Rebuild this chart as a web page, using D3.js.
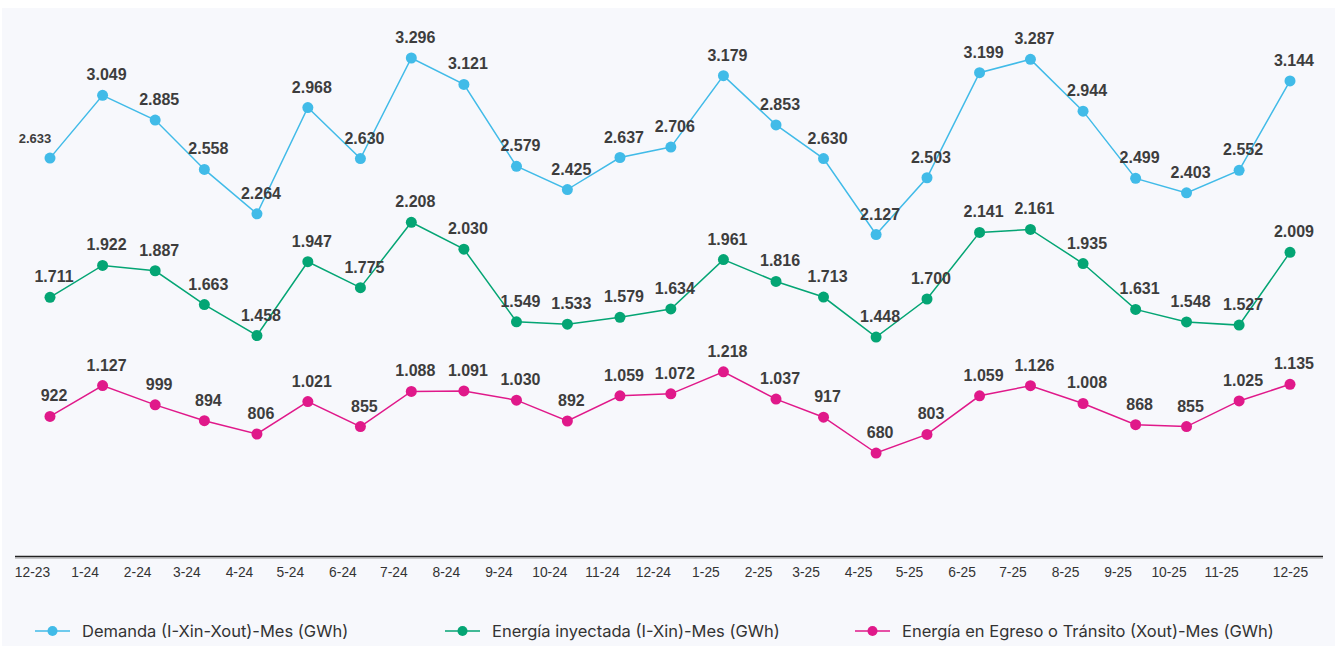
<!DOCTYPE html>
<html>
<head>
<meta charset="utf-8">
<script src="https://cdn.jsdelivr.net/npm/d3@7"></script>
<style>
  body { margin: 0; background: #fff; }
  svg { display: block; }
</style>
</head>
<body>
<div id="chart"></div>
<script>
// month labels (MM-YY) and the monthly values in GWh
var months = ["12-23", "1-24", "2-24", "3-24", "4-24", "5-24", "6-24", "7-24", "8-24", "9-24", "10-24", "11-24", "12-24",
              "1-25", "2-25", "3-25", "4-25", "5-25", "6-25", "7-25", "8-25", "9-25", "10-25", "11-25", "12-25"];
var demanda = [2633, 3049, 2885, 2558, 2264, 2968, 2630, 3296, 3121, 2579, 2425, 2637, 2706,
               3179, 2853, 2630, 2127, 2503, 3199, 3287, 2944, 2499, 2403, 2552, 3144];
var inyectada = [1711, 1922, 1887, 1663, 1458, 1947, 1775, 2208, 2030, 1549, 1533, 1579, 1634,
                 1961, 1816, 1713, 1448, 1700, 2141, 2161, 1935, 1631, 1548, 1527, 2009];
var egreso = [922, 1127, 999, 894, 806, 1021, 855, 1088, 1091, 1030, 892, 1059, 1072,
              1218, 1037, 917, 680, 803, 1059, 1126, 1008, 868, 855, 1025, 1135];
var seriesNames = ["Demanda (I-Xin-Xout)-Mes (GWh)", "Energía inyectada (I-Xin)-Mes (GWh)", "Energía en Egreso o Tránsito (Xout)-Mes (GWh)"];
var seriesColors = ["#41bbe8", "#04a574", "#e0198a"];

var width = 1335, height = 646;

// month label -> first day of that month
var parseMonth = function (s) {
    var p = s.split("-");
    return new Date(2000 + (+p[1]), (+p[0]) - 1, 1);
};
var dates = months.map(parseMonth);

var locale = d3.formatLocale({ decimal: ",", thousands: ".", grouping: [3], currency: ["$", ""] });
var fmt = locale.format(",d");

var svg = d3.select("#chart").append("svg")
    .attr("width", width)
    .attr("height", height);

svg.append("rect")
    .attr("x", 2)
    .attr("y", 8)
    .attr("width", width - 2)
    .attr("height", height - 8)
    .style("fill", "#f7f8fc");

var x = d3.scaleTime()
    .domain([dates[0], dates[dates.length - 1]])
    .range([50, 1290]);

var y = d3.scaleLinear()
    .domain([0, 3500])
    .range([555.7, 27.2]);

// x axis
var axisY = 556.5;
var xAxis = d3.axisBottom(x)
    .tickValues(dates)
    .tickSize(0)
    .tickFormat(function (d, i) { return months[i]; });

var gx = svg.append("g")
    .attr("transform", "translate(0," + axisY + ")")
    .call(xAxis);
gx.select(".domain").remove();
gx.selectAll("text")
    .attr("dy", "1.3em")
    .attr("dx", function (d, i) { return i == months.length - 1 ? 0 : -18; })
    .style("font-family", "'Liberation Sans', Arial, sans-serif")
    .style("font-size", "13.8px")
    .style("fill", "#333");

svg.append("line")
    .attr("x1", 15)
    .attr("x2", 1323)
    .attr("y1", axisY)
    .attr("y2", axisY)
    .style("stroke", "#222")
    .style("stroke-width", 1.5);
svg.append("line")
    .attr("x1", 15)
    .attr("x2", 1323)
    .attr("y1", axisY + 1.5)
    .attr("y2", axisY + 1.5)
    .style("stroke", "#999")
    .style("stroke-width", 1);

var allSeries = [demanda, inyectada, egreso];

var line = d3.line()
    .x(function (d, i) { return x(dates[i]); })
    .y(function (d) { return y(d); });

allSeries.forEach(function (values, s) {
    var g = svg.append("g").attr("class", "series");

    g.append("path")
        .datum(values)
        .attr("d", line)
        .style("fill", "none")
        .style("stroke", seriesColors[s])
        .style("stroke-width", 1.5);

    g.selectAll("circle")
        .data(values)
        .enter().append("circle")
        .attr("cx", function (d, i) { return x(dates[i]); })
        .attr("cy", function (d) { return y(d); })
        .attr("r", 5.5)
        .style("fill", seriesColors[s]);

    g.selectAll("text")
        .data(values)
        .enter().append("text")
        .attr("x", function (d, i) { return x(dates[i]) + ((s == 0 && i == 0) ? -15 : 4); })
        .attr("y", function (d) { return y(d) - 15; })
        .attr("text-anchor", "middle")
        .text(function (d) { return fmt(d); })
        .style("font-family", "'Liberation Sans', Arial, sans-serif")
        .style("font-weight", "bold")
        .style("font-size", function (d, i) { return (s == 0 && i == 0) ? "13px" : "16px"; })
        .style("fill", "#3d3d3d");
});

// legend
var legendX = [35, 445, 855];
var legend = svg.selectAll(".legend")
    .data(seriesNames)
    .enter().append("g")
    .attr("class", "legend")
    .attr("transform", function (d, i) { return "translate(" + legendX[i] + ",631)"; });

legend.append("line")
    .attr("x1", 0)
    .attr("x2", 35)
    .style("stroke", function (d, i) { return seriesColors[i]; })
    .style("stroke-width", 1.5);
legend.append("circle")
    .attr("cx", 17.5)
    .attr("r", 5)
    .style("fill", function (d, i) { return seriesColors[i]; });
legend.append("text")
    .attr("x", 47)
    .attr("dy", "0.35em")
    .text(function (d) { return d; })
    .style("font-family", "Inter, 'Noto Sans', sans-serif")
    .style("font-size", "16.5px")
    .style("fill", "#333");
</script>
</body>
</html>
